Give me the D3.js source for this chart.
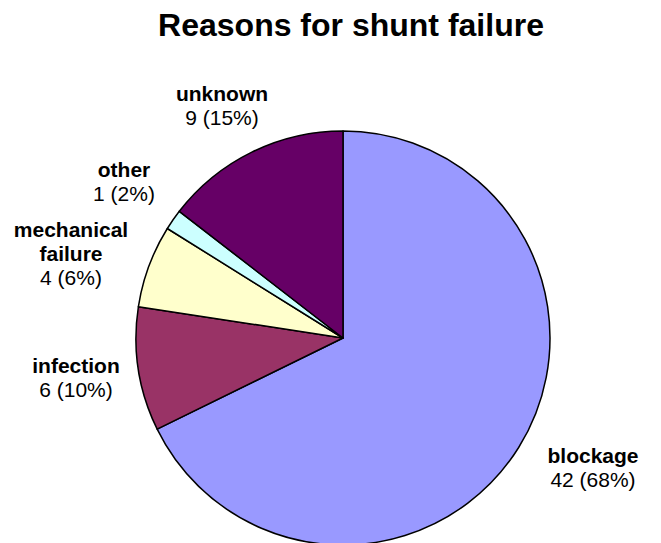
<!DOCTYPE html>
<html>
<head>
<meta charset="utf-8">
<script src="https://cdn.jsdelivr.net/npm/d3@7"></script>
<style>
  body { margin: 0; background: #fff; }
  svg { display: block; }
  text { font-family: "Liberation Sans", Arial, sans-serif; fill: #000; }
</style>
</head>
<body>
<svg id="chart" width="661" height="543"></svg>
<script>
// ---- data ----
const categories = ["blockage", "infection", "mechanical failure", "other", "unknown"];
const counts = [42, 6, 4, 1, 9];
const percents = ["68%", "10%", "6%", "2%", "15%"];
const colors = ["#9999FF", "#993366", "#FFFFCC", "#CCFFFF", "#660066"];
const title = "Reasons for shunt failure";
const labelLines = [["blockage"], ["infection"], ["mechanical", "failure"], ["other"], ["unknown"]];

// ---- layout (label anchors: centre x, first baseline y) ----
const labelAnchor = [[593, 463], [76, 373], [71, 237], [124, 177], [222, 101]];
const W = 661, H = 543;
const cx = 343, cy = 338, r = 207;
const fontSize = 21, lineH = 24;

const svg = d3.select("#chart");

svg.append("text")
  .attr("x", 351).attr("y", 36)
  .attr("text-anchor", "middle")
  .style("font-size", "32px").style("font-weight", "bold")
  .text(title);

const data = categories.map((c, i) => ({ cat: c, value: counts[i], pct: percents[i], color: colors[i], lines: labelLines[i], anchor: labelAnchor[i] }));

const pie = d3.pie().value(d => d.value).sort(null).startAngle(0).endAngle(2 * Math.PI);
const arcs = pie(data);
const arc = d3.arc().innerRadius(0).outerRadius(r);

const g = svg.append("g").attr("transform", `translate(${cx},${cy})`);

g.selectAll("path.slice")
  .data(arcs)
  .join("path")
  .attr("class", "slice")
  .attr("d", arc)
  .attr("fill", d => d.data.color)
  .attr("stroke", "#000")
  .attr("stroke-width", 1.5)
  .attr("stroke-linejoin", "round");

const labels = svg.append("g");
data.forEach(d => {
  const lines = d.lines.map(t => ({ t, bold: true })).concat([{ t: `${d.value} (${d.pct})`, bold: false }]);
  labels.append("g").selectAll("text").data(lines).join("text")
    .attr("text-anchor", "middle")
    .attr("x", d.anchor[0])
    .attr("y", (l, i) => d.anchor[1] + i * lineH)
    .style("font-size", fontSize + "px")
    .style("font-weight", l => l.bold ? "bold" : "normal")
    .text(l => l.t);
});
</script>
</body>
</html>
